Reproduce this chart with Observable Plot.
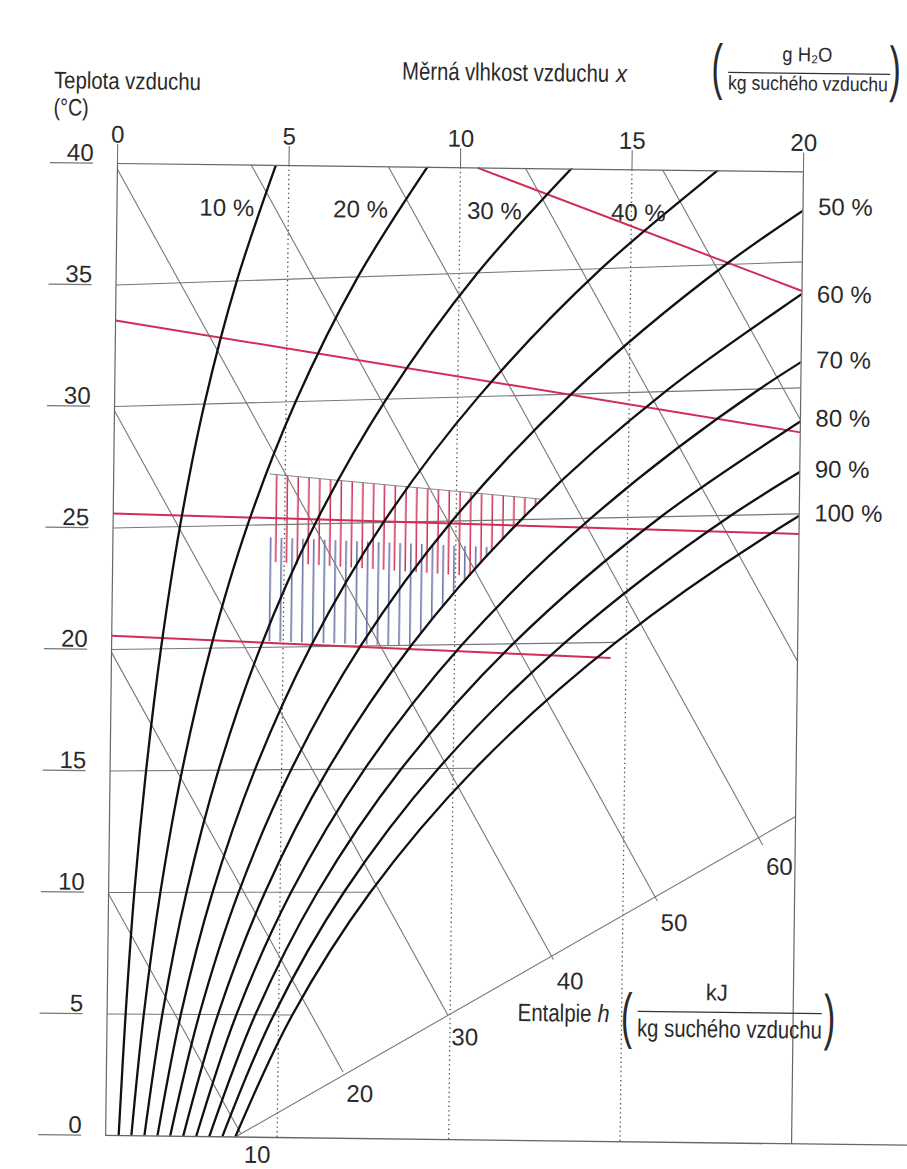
<!DOCTYPE html>
<html><head><meta charset="utf-8">
<script src="https://cdn.jsdelivr.net/npm/d3@7"></script>
<script src="https://cdn.jsdelivr.net/npm/@observablehq/plot@0.6"></script>
<style>
html,body{margin:0;padding:0;background:#fff;overflow:hidden;}
#chart svg{display:block;transform:rotate(0.7deg);transform-origin:117px 163px;}
</style></head><body><div id="chart"></div>
<script>
// ---- data ----
const xTicks = [0, 5, 10, 15, 20];                 // g H2O / kg dry air
const tTicks = [0, 5, 10, 15, 20, 25, 30, 35, 40]; // °C
const rhLevels = [10, 20, 30, 40, 50, 60, 70, 80, 90, 100];
const rhTemps = [0, 5, 10, 15, 20, 25, 30, 35, 40];
const rh10  = [0.38, 0.54, 0.75, 1.05, 1.44, 1.95, 2.62, 3.52, 4.70];
const rh20  = [0.75, 1.07, 1.51, 2.10, 2.89, 3.92, 5.28, 7.05, 9.35];
const rh30  = [1.13, 1.61, 2.27, 3.16, 4.34, 5.89, 7.92, 10.54, 13.90];
const rh40  = [1.51, 2.15, 3.03, 4.22, 5.80, 7.88, 10.61, 14.14, 18.68];
const rh50  = [1.88, 2.69, 3.79, 5.28, 7.26, 9.88, 13.31, 17.77, 23.52];
const rh60  = [2.26, 3.23, 4.56, 6.35, 8.74, 11.90, 16.05, 21.45];
const rh70  = [2.64, 3.77, 5.32, 7.42, 10.22, 13.93, 18.80, 25.17];
const rh80  = [3.02, 4.32, 6.09, 8.49, 11.70, 15.97, 21.58];
const rh90  = [3.40, 4.86, 6.86, 9.57, 13.20, 18.02, 24.38];
const rh100 = [3.78, 5.40, 7.63, 10.65, 14.70, 20.09, 27.21];
const rhCurves = [rh10, rh20, rh30, rh40, rh50, rh60, rh70, rh80, rh90, rh100];

const topRhLabels = ["10 %", "20 %", "30 %", "40 %"];
const topRhLabelX = [4.0, 7.9, 11.8, 16.0];
const rightRhLabels = ["50 %", "60 %", "70 %", "80 %", "90 %", "100 %"];
const rightRhEdgeY = [38.2, 34.6, 31.9, 29.5, 27.4, 25.6];

const isoT = [5, 10, 15, 20, 25, 30, 35];
const isoEndX = [5.40, 7.63, 10.65, 14.70, 20, 20, 20];

const hValues = [10, 20, 30, 40, 50, 60, 70, 80];        // kJ / kg dry air
const hStartX = [0, 0, 0, 0, 3.9, 7.9, 11.9, 15.9];
const hEndX = [3.93, 6.9, 9.94, 12.99, 16.0, 19.05, 20, 20];
const hLabels = [10, 20, 30, 40, 50, 60];

const scaleLineX = [3.78, 20];
const scaleLineY = [0, 13.47];

const redX1 = [0, 10.5, 0, 0];
const redY1 = [33.54, 40, 25.6, 20.56];
const redX2 = [20, 20, 20, 14.55];
const redY2 = [29.28, 35.1, 25.1, 19.9];

const summerZoneX = [4.55, 12.5, 11.9, 11.19, 10.45, 4.55];
const summerZoneY = [27.3, 26.4, 25.55, 24.5, 23.2, 23.7];
const winterZoneX = [4.55, 11.1, 10.52, 9.9, 9.3, 8.74, 4.55];
const winterZoneY = [24.7, 24.4, 23.45, 22.4, 21.36, 20.3, 20.42];

// ---- Mollier oblique coordinates ----
const oblique = (x, t) => t * (1 + 0.00185 * x);
const hY = (h, x) => (h - 2.501 * x) / 1.006;

const rhRows = rhCurves.flatMap((xs, i) => xs.map((x, j) => ({rh: rhLevels[i], x, y: oblique(x, rhTemps[j])})));
const isoRows = isoT.map((t, i) => ({x1: 0, y1: t, x2: isoEndX[i], y2: oblique(isoEndX[i], t)}));
const hRows = hValues.map((h, i) => ({h, x1: hStartX[i], y1: hY(h, hStartX[i]), x2: hEndX[i], y2: hY(h, hEndX[i])}));
const hLabelRows = hLabels.map(h => { const i = hValues.indexOf(h); return {text: String(h), x: hEndX[i], y: hY(h, hEndX[i])}; });
const redRows = redX1.map((_, i) => ({x1: redX1[i], y1: redY1[i], x2: redX2[i], y2: redY2[i]}));
const summerRows = summerZoneX.map((x, i) => ({x, y: summerZoneY[i]}));
const winterRows = winterZoneX.map((x, i) => ({x, y: winterZoneY[i]}));
const topRows = topRhLabels.map((t, i) => ({text: t, x: topRhLabelX[i]}));
const rightRows = rightRhLabels.map((t, i) => ({text: t, y: rightRhEdgeY[i]}));

const numFont = "'Liberation Sans', Arial, sans-serif";
const gray = "#777";
const red = "#d12e55";

const plot = Plot.plot({
  width: 907, height: 1169,
  marginTop: 163, marginRight: 104, marginBottom: 34, marginLeft: 117,
  x: {domain: [0, 20], label: null},
  y: {domain: [0, 40], label: null},
  style: {fontFamily: numFont, fontSize: "24px", color: "#2a2a2a", background: "#fff", overflow: "visible"},
  marks: [
    Plot.line(winterRows, {x: "x", y: "y", fill: "url(#hatchBlue)", stroke: "none", curve: "linear-closed"}),
    Plot.line(summerRows, {x: "x", y: "y", fill: "url(#hatchRed)", stroke: "none", curve: "linear-closed"}),
    Plot.link([summerRows[0]], {x1: "x", y1: "y", x2: () => summerRows[1].x, y2: () => summerRows[1].y, stroke: "#888", strokeWidth: 1}),
    Plot.ruleX([xTicks[1], xTicks[2], xTicks[3]], {y1: 0, y2: 40, stroke: "#555", strokeWidth: 1.3, strokeDasharray: "1.4,3.2"}),
    Plot.link(isoRows, {x1: "x1", y1: "y1", x2: "x2", y2: "y2", stroke: gray, strokeWidth: 1.1}),
    Plot.link(hRows, {x1: "x1", y1: "y1", x2: "x2", y2: "y2", stroke: gray, strokeWidth: 1.1}),
    Plot.link([0], {x1: () => scaleLineX[0], y1: () => scaleLineY[0], x2: () => scaleLineX[1], y2: () => scaleLineY[1], stroke: gray, strokeWidth: 1.1}),
    Plot.link(redRows, {x1: "x1", y1: "y1", x2: "x2", y2: "y2", stroke: red, strokeWidth: 2}),
    Plot.line(rhRows, {x: "x", y: "y", z: "rh", curve: "catmull-rom", stroke: "#111", strokeWidth: 2.3, clip: true}),
    // frame
    Plot.ruleX([0, 20], {y1: 0, y2: 40, stroke: "#666", strokeWidth: 1.2}),
    Plot.ruleY([40], {x1: 0, x2: 20, stroke: "#666", strokeWidth: 1.2}),
    Plot.ruleY([0], {x1: 0, x2: 24, stroke: "#666", strokeWidth: 1.3}),
    // axes
    Plot.axisX({anchor: "top", ticks: xTicks, tickSize: 20, tickFormat: () => "", stroke: "#666"}),
    Plot.axisX({anchor: "top", ticks: xTicks, tickSize: 0, tickPadding: 21, fontSize: 24}),
    Plot.axisY({anchor: "left", ticks: tTicks, tickSize: 43, dx: -24, tickFormat: () => "", stroke: "#777", strokeWidth: 1.2}),
    Plot.axisY({anchor: "left", ticks: tTicks, tickSize: 0, tickPadding: 24, dy: -10, fontSize: 24}),
    // labels
    Plot.text(topRows, {x: "x", frameAnchor: "top", dy: 34, text: "text", textAnchor: "end", fontSize: 24}),
    Plot.text(rightRows, {y: "y", frameAnchor: "right", dx: 15, dy: -8.5, text: "text", textAnchor: "start", fontSize: 24}),
    Plot.text(hLabelRows, {x: "x", y: "y", text: "text", dx: 17, dy: 22, fontSize: 24})
  ]
});

document.getElementById("chart").appendChild(plot);

const svg = d3.select(plot);
svg.insert("defs", ":first-child").html(
  `<pattern id="hatchRed" patternUnits="userSpaceOnUse" width="10.8" height="40"><rect x="9.3" y="0" width="1.6" height="40" fill="${red}"/></pattern>` +
  `<pattern id="hatchBlue" patternUnits="userSpaceOnUse" width="10.8" height="40"><rect x="3.9" y="0" width="1.6" height="40" fill="#6a76a8"/></pattern>`
);

const g = svg.append("g").attr("fill", "#2a2a2a").attr("font-family", numFont);
// condensed annotation text: horizontally scaled to the width seen in the reference
function label(x, y, size, width, text, anchor = "start", italic = false) {
  const t = g.append("text").attr("font-size", size).attr("text-anchor", anchor).text(text);
  if (italic) t.attr("font-style", "italic");
  const w = t.node().getComputedTextLength() || width;
  t.attr("transform", `translate(${x},${y}) scale(${width / w},1)`);
  return t;
}
function paren(x, y, ch) {
  g.append("text").attr("transform", `translate(${x},${y}) scale(1,1.8)`)
    .attr("font-size", 34).attr("text-anchor", "middle").text(ch);
}
function bar(x1, x2, y) {
  g.append("line").attr("x1", x1).attr("x2", x2).attr("y1", y).attr("y2", y)
    .attr("stroke", "#333").attr("stroke-width", 1.3);
}
label(53, 89, 24, 147, "Teplota vzduchu");
label(53, 116, 24, 35, "(°C)");
label(401, 76, 25, 207, "Měrná vlhkost vzduchu");
label(615, 76, 25, 11, "x", "start", true);
label(806, 53, 20, 50, "g H₂O", "middle");
bar(727, 889, 65);
label(807, 82, 20, 160, "kg suchého vzduchu", "middle");
paren(716, 80, "(");
paren(894, 80, ")");
label(528, 1016, 25, 74, "Entalpie");
label(608, 1016, 25, 12, "h", "start", true);
label(727, 993, 23, 22, "kJ", "middle");
bar(648, 832, 1005);
label(740, 1030, 25, 185, "kg suchého vzduchu", "middle");
paren(637, 1030, "(");
paren(840, 1029, ")");
</script>
</body></html>
